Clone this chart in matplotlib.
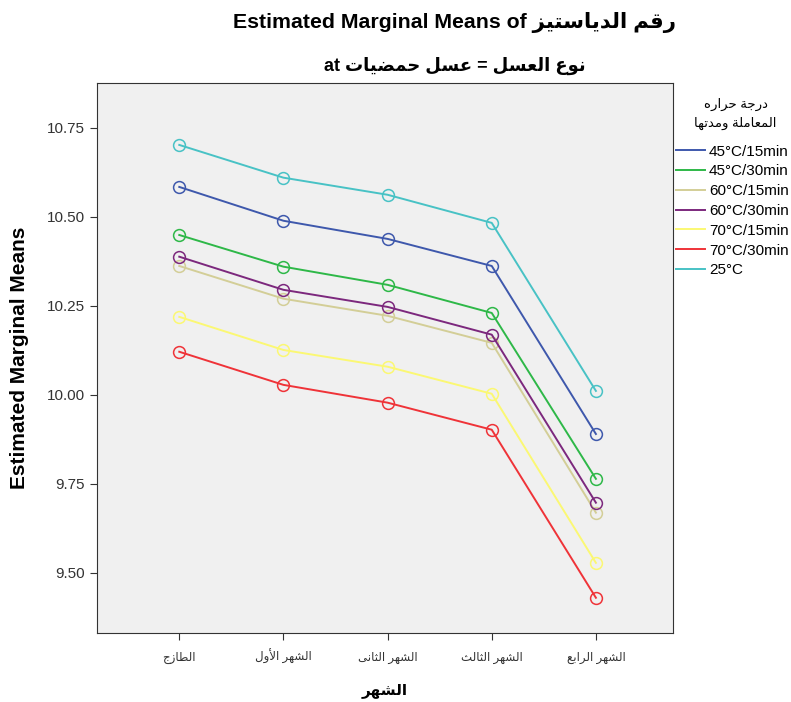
import matplotlib
matplotlib.use('Agg')
import matplotlib.pyplot as plt

plt.rcParams['font.family'] = ['Liberation Sans', 'DejaVu Sans']

# الفترات الزمنية (محور x)
months = ['الطازج', 'الشهر الأول', 'الشهر الثانى', 'الشهر الثالث', 'الشهر الرابع']

series_names = ['45°C/15min', '45°C/30min', '60°C/15min', '60°C/30min',
                '70°C/15min', '70°C/30min', '25°C']
t45_15 = [10.584, 10.489, 10.438, 10.362, 9.890]
t45_30 = [10.449, 10.360, 10.309, 10.230, 9.764]
t60_15 = [10.362, 10.270, 10.222, 10.146, 9.669]
t60_30 = [10.388, 10.295, 10.247, 10.169, 9.697]
t70_15 = [10.219, 10.126, 10.079, 10.003, 9.528]
t70_30 = [10.121, 10.028, 9.978, 9.902, 9.430]
t25 = [10.702, 10.610, 10.562, 10.483, 10.011]
series_values = [t45_15, t45_30, t60_15, t60_30, t70_15, t70_30, t25]
colors = ['#3E58AC', '#2EB848', '#D3CE97', '#7C287D', '#FBF873', '#EF3338', '#48C2C5']
yticks = [9.50, 9.75, 10.00, 10.25, 10.50, 10.75]

# matplotlib لا يقوم بتشكيل الحروف العربية، لذلك نحولها يدويا
_letters = 'ءآأؤإئابةتثجحخدذرزسشصضطظعغفقكلمنهوىي'
_nforms = [1, 2, 2, 2, 2, 4, 2, 4, 2, 4, 4, 4, 4, 4, 2, 2, 2, 2, 4, 4, 4, 4,
           4, 4, 4, 4, 4, 4, 4, 4, 4, 4, 4, 2, 2, 4]
_forms = {}
_code = 0xFE80
for ch, n in zip(_letters, _nforms):
    _forms[ch] = [chr(_code + k) for k in range(n)]
    _code += n
_lam_alef = {'آ': 0xFEF5, 'أ': 0xFEF7, 'إ': 0xFEF9, 'ا': 0xFEFB}


def joins_next(ch):
    return ch in _forms and len(_forms[ch]) == 4


def ar(text):
    out = []
    i = 0
    while i < len(text):
        c = text[i]
        if c not in _forms:
            out.append(c)
            i += 1
            continue
        prev_join = i > 0 and joins_next(text[i - 1])
        if c == 'ل' and i + 1 < len(text) and text[i + 1] in _lam_alef:
            out.append(chr(_lam_alef[text[i + 1]] + (1 if prev_join else 0)))
            i += 2
            continue
        next_join = joins_next(c) and i + 1 < len(text) and text[i + 1] in _forms and text[i + 1] != 'ء'
        f = _forms[c]
        if prev_join and next_join:
            out.append(f[3])
        elif prev_join:
            out.append(f[1] if len(f) > 1 else f[0])
        elif next_join:
            out.append(f[2])
        else:
            out.append(f[0])
        i += 1
    return ''.join(out)[::-1]


fig = plt.figure(figsize=(7.91, 7.02), dpi=100)
ax = fig.add_axes([0.1226, 0.0983, 0.7282, 0.7835])
ax.set_facecolor('#F0F0F0')

x = list(range(len(months)))
for name, vals, col in zip(series_names, series_values, colors):
    ax.plot(x, vals, color=col, lw=1.4, marker='o', markersize=8.5,
            markerfacecolor='none', markeredgecolor=col, markeredgewidth=1.1,
            label=name)

ax.set_xlim(-0.79, 4.74)
ax.set_ylim(9.331, 10.876)
ax.set_yticks(yticks)
ax.set_yticklabels(['%.2f' % v for v in yticks])
ax.set_xticks(x)
ax.set_xticklabels([ar(m) for m in months], fontsize=8.5, va='baseline')
ax.tick_params(axis='both', direction='out', length=5, color='#333333',
               labelcolor='#333333')
ax.tick_params(axis='y', labelsize=11)
ax.tick_params(axis='x', pad=15)
for s in ax.spines.values():
    s.set_color('#333333')

ax.set_ylabel('Estimated Marginal Means', fontsize=15, fontweight='bold', labelpad=13)
ax.set_xlabel(ar('الشهر'), fontsize=11, fontweight='bold', labelpad=14)

fig.text(0.575, 0.968, 'Estimated Marginal Means of ' + ar('رقم الدياستيز'),
         ha='center', va='center', fontsize=15.3, fontweight='bold')
fig.text(0.575, 0.906, 'at ' + ar('نوع العسل = عسل حمضيات'),
         ha='center', va='center', fontsize=13, fontweight='bold')

# عنوان المفتاح
fig.text(0.930, 1 - 104 / 702, ar('درجة حراره'), ha='center', va='center', fontsize=9.5)
fig.text(0.930, 1 - 123 / 702, ar('المعاملة ومدتها'), ha='center', va='center', fontsize=9.5)

leg = ax.legend(loc='upper left', bbox_to_anchor=(0.8546, 0.794),
                bbox_transform=fig.transFigure, frameon=False, fontsize=11,
                handlelength=1.9, handletextpad=0.26, labelspacing=0.38,
                borderpad=0, borderaxespad=0)
for h in leg.legend_handles:
    h.set_marker('')

fig.savefig('out.png', dpi=100)
